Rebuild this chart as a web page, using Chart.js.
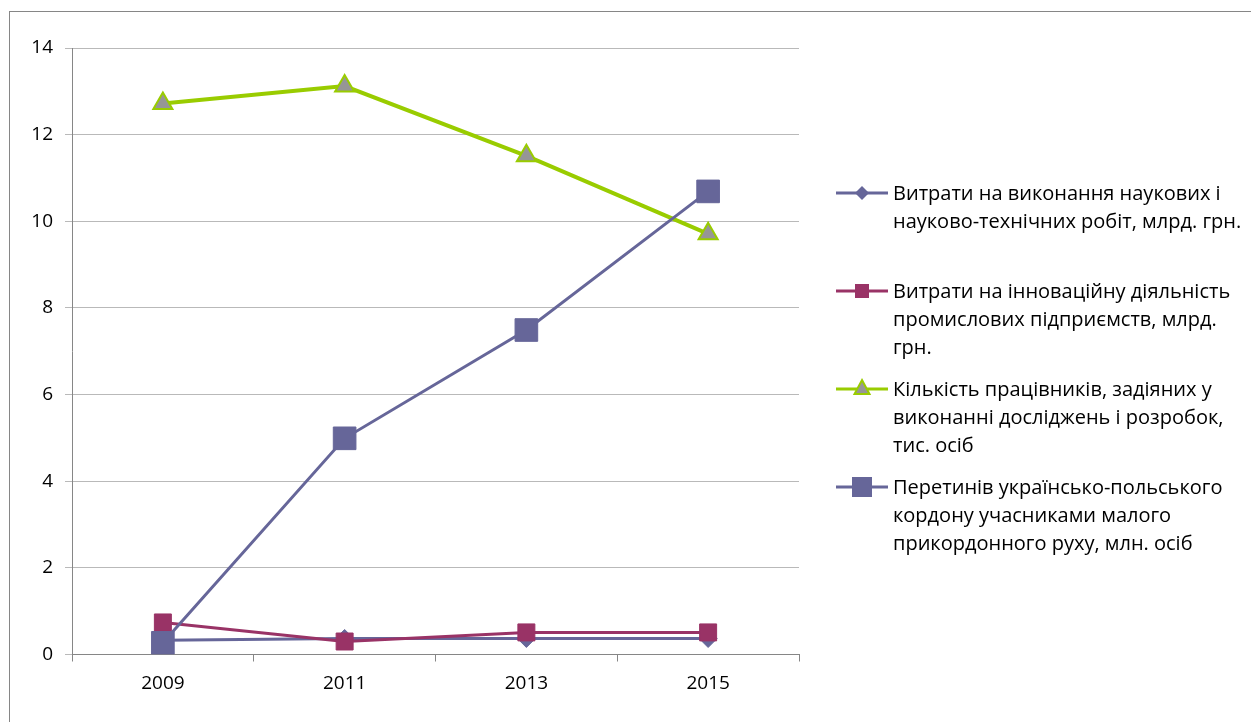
<!DOCTYPE html>
<html>
<head>
<meta charset="utf-8">
<script src="https://cdn.jsdelivr.net/npm/chart.js@4"></script>
<style>
  html, body { margin: 0; padding: 0; background: #fff; overflow: hidden; }
  body { width: 1251px; height: 722px; position: relative; }
  #frame { position: absolute; left: 9px; top: 11px; width: 1300px; height: 800px; border: 1px solid #868686; }
  #wrap { position: absolute; left: 0; top: 0; width: 1251px; height: 722px; }
  .item { position: absolute; left: 836px; }
  .item svg { position: absolute; left: 0; top: -14px; }
  .item .txt { position: absolute; left: 57px; top: -14px; white-space: nowrap;
    font-family: "Open Sans", sans-serif; font-size: 20px; line-height: 28px; color: #000; }
</style>
</head>
<body>
<div id="frame"></div>
<div id="wrap"><canvas id="chart" width="1251" height="722"></canvas></div>
<div id="legend"></div>
<script>
// Years on the x axis
const years = ['2009', '2011', '2013', '2015'];

// Series values
const researchCost = [0.33, 0.37, 0.37, 0.37];
const innovationCost = [0.74, 0.30, 0.51, 0.51];
const researchers = [12.72, 13.12, 11.51, 9.71];
const borderCrossings = [0.27, 4.99, 7.49, 10.69];

// Legend lines (wrapped as in the original)
const legendLines = [
  ['Витрати на виконання наукових і', 'науково-технічних робіт, млрд. грн.'],
  ['Витрати на інноваційну діяльність', 'промислових підприємств,  млрд.', 'грн.'],
  ['Кількість працівників, задіяних у', 'виконанні досліджень і розробок,', 'тис. осіб'],
  ['Перетинів українсько-польського', 'кордону учасниками малого', 'прикордонного руху, млн. осіб']
];

const BLUE = '#666699';
const RED = '#993366';
const GREEN = '#99CC00';
const GREY = '#969696';
const tickFont = { family: '"Open Sans", sans-serif', size: 19 };

const ctx = document.getElementById('chart').getContext('2d');
new Chart(ctx, {
  type: 'line',
  data: {
    labels: years,
    datasets: [
      {
        label: legendLines[0].join(' '),
        data: researchCost,
        borderColor: BLUE, backgroundColor: BLUE, borderWidth: 3,
        pointStyle: 'rectRot', pointRadius: 9, pointBorderWidth: 1,
        tension: 0, order: 4
      },
      {
        label: legendLines[1].join(' '),
        data: innovationCost,
        borderColor: RED, backgroundColor: RED, borderWidth: 3,
        pointStyle: 'rect', pointRadius: 12, pointBorderWidth: 1,
        tension: 0, order: 3
      },
      {
        label: legendLines[2].join(' '),
        data: researchers,
        borderColor: GREEN, backgroundColor: GREY, borderWidth: 4,
        pointStyle: 'triangle', pointRadius: 11, pointBorderWidth: 2,
        pointBorderColor: GREEN, pointBackgroundColor: GREY,
        tension: 0, order: 2
      },
      {
        label: legendLines[3].join(' '),
        data: borderCrossings,
        borderColor: BLUE, backgroundColor: BLUE, borderWidth: 3,
        pointStyle: 'rect', pointRadius: 16, pointBorderWidth: 1,
        tension: 0, order: 1
      }
    ]
  },
  options: {
    responsive: false,
    animation: false,
    events: [],
    layout: { padding: { left: 0, top: 48, right: 452, bottom: 0 } },
    plugins: { legend: { display: false }, tooltip: { enabled: false } },
    scales: {
      x: {
        offset: true,
        afterFit: s => { s.height = 67.5; },
        grid: { offset: true, drawOnChartArea: false, tickLength: 7, color: '#868686' },
        border: { color: '#868686', width: 1 },
        ticks: { color: '#000', font: tickFont, padding: 11 }
      },
      y: {
        min: 0, max: 14,
        afterFit: s => { s.width = 72; },
        grid: { color: '#b9b9b9', tickLength: 7 },
        border: { color: '#868686', width: 1 },
        ticks: { stepSize: 2, color: '#000', font: tickFont, padding: 12 }
      }
    }
  }
});

// HTML legend with markers drawn as small SVGs
const markerY = [193, 291, 389, 487];
const markers = [
  `<line x1="0" y1="14" x2="52" y2="14" stroke="${BLUE}" stroke-width="3"/><polygon points="19,14 26,7 33,14 26,21" fill="${BLUE}"/>`,
  `<line x1="0" y1="14" x2="52" y2="14" stroke="${RED}" stroke-width="3"/><rect x="19" y="7" width="14" height="14" fill="${RED}"/>`,
  `<line x1="0" y1="14" x2="52" y2="14" stroke="${GREEN}" stroke-width="3"/><polygon points="26,5 33.5,19 18.5,19" fill="${GREY}" stroke="${GREEN}" stroke-width="2"/>`,
  `<line x1="0" y1="14" x2="52" y2="14" stroke="${BLUE}" stroke-width="3"/><rect x="16" y="4" width="20" height="20" fill="${BLUE}"/>`
];
const legend = document.getElementById('legend');
legendLines.forEach((lines, i) => {
  const item = document.createElement('div');
  item.className = 'item';
  item.style.top = markerY[i] + 'px';
  item.innerHTML = `<svg width="52" height="28">${markers[i]}</svg><div class="txt">${lines.join('<br>')}</div>`;
  legend.appendChild(item);
});
</script>
</body>
</html>
